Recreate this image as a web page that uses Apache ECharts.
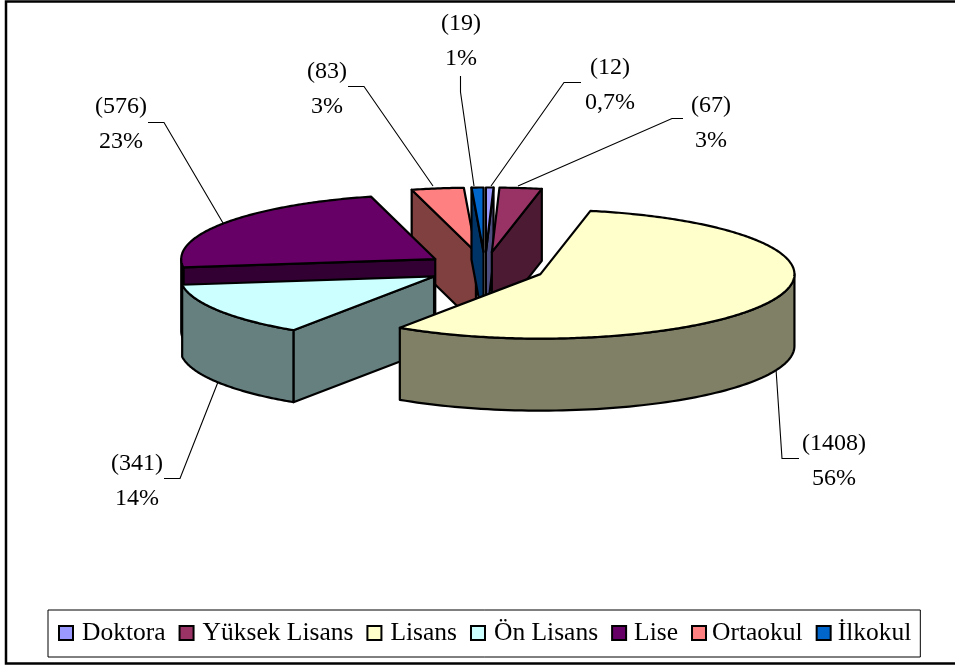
<!DOCTYPE html>
<html>
<head>
<meta charset="utf-8">
<style>html,body{margin:0;padding:0;background:#fff}#c{width:955px;height:665px}</style>
<script src="https://cdn.jsdelivr.net/npm/echarts@6/dist/echarts.min.js"></script>
</head>
<body>
<div id="c"></div>
<script>
const categories = ['Doktora', 'Yüksek Lisans', 'Lisans', 'Ön Lisans', 'Lise', 'Ortaokul', 'İlkokul'];
const counts = [12, 67, 1408, 341, 576, 83, 19];
const percentLabels = ['0,7%', '3%', '56%', '14%', '23%', '3%', '1%'];
const topColors = ['#9999FF', '#993366', '#FFFFCC', '#CCFFFF', '#660066', '#FF8080', '#0066CC'];
const wallColors = ['#4D4D80', '#4D1A33', '#808066', '#668080', '#330033', '#804040', '#003366'];
const drawOrder = [5, 6, 0, 1, 4, 3, 2];
const labelCenters = [[610, 85], [711, 123], [834, 461], [137, 481], [121, 124], [327, 89], [461, 41]];
const leaders = [
  [[581, 82.5], [564, 82.5], [491, 186]],
  [[683, 118.5], [672, 118.5], [518, 186]],
  [[799, 458.5], [782, 458.5], [776, 369]],
  [[164, 478.5], [180, 478.5], [218, 382]],
  [[148, 122.5], [164, 122.5], [223, 223]],
  [[348, 86.5], [364, 86.5], [433, 186]],
  [[460.5, 76], [460.5, 92], [474, 186]]
];
const legendTextPads = [4, 4, 4, 4, 3, 1, 2];

const C = {x: 485, y: 268, rx: 254, ry: 64.5, depth: 72, exX: 60, exY: 16};
const total = counts.reduce((a, b) => a + b, 0);
const starts = [];
counts.reduce((acc, v, i) => { starts[i] = acc; return acc + v / total * 360; }, 0);
const rad = d => d * Math.PI / 180;

function sliceChildren(i) {
  const a0 = starts[i], a1 = a0 + counts[i] / total * 360, mid = (a0 + a1) / 2;
  const ax = C.x + C.exX * Math.sin(rad(mid));
  const ay = C.y - C.exY * Math.cos(rad(mid));
  const pt = (a, dz) => [ax + C.rx * Math.sin(rad(a)), ay - C.ry * Math.cos(rad(a)) + (dz || 0)];
  const stroke = {stroke: '#000', lineWidth: 2.2, lineJoin: 'round'};
  const poly = (points, fill) => ({type: 'polygon', shape: {points}, style: Object.assign({fill}, stroke)});
  const kids = [];
  // leader line
  kids.push({type: 'polyline', shape: {points: leaders[i]}, style: {stroke: '#000', lineWidth: 1.1, fill: 'none'}});
  // radial walls (only those facing the viewer)
  if (-Math.cos(rad(a0 - 90)) > 0.001) {
    kids.push(poly([[ax, ay], pt(a0), pt(a0, C.depth), [ax, ay + C.depth]], wallColors[i]));
  }
  if (-Math.cos(rad(a1 + 90)) > 0.001) {
    kids.push(poly([[ax, ay], pt(a1), pt(a1, C.depth), [ax, ay + C.depth]], wallColors[i]));
  }
  // outer rim, front part only
  const r0 = Math.max(a0, 90), r1 = Math.min(a1, 270);
  if (r1 > r0) {
    const upper = [], lower = [];
    for (let a = r0; a <= r1 + 1e-6; a += (r1 - r0) / 80) { upper.push(pt(a)); lower.unshift(pt(a, C.depth)); }
    kids.push(poly(upper.concat(lower), wallColors[i]));
  }
  // top face
  const top = [[ax, ay]];
  const n = Math.max(4, Math.ceil((a1 - a0) * 1.5));
  for (let k = 0; k <= n; k++) top.push(pt(a0 + (a1 - a0) * k / n));
  kids.push(poly(top, topColors[i]));
  // data label
  kids.push({type: 'text', style: {
    x: labelCenters[i][0], y: labelCenters[i][1],
    text: '(' + counts[i] + ')\n' + percentLabels[i],
    font: '24px "Liberation Serif"', lineHeight: 35, fill: '#000', align: 'center', verticalAlign: 'middle'
  }});
  return kids;
}

const series = drawOrder.map((i, order) => ({
  type: 'custom',
  name: categories[i],
  coordinateSystem: 'none',
  z: 2 + order,
  silent: true,
  animation: false,
  itemStyle: {color: topColors[i]},
  data: [[counts[i]]],
  renderItem: () => ({type: 'group', children: sliceChildren(i)})
}));

const chart = echarts.init(document.getElementById('c'), null, {renderer: 'canvas'});
chart.setOption({
  backgroundColor: '#fff',
  animation: false,
  graphic: [{type: 'polyline', z: 0, shape: {points: [[960, 1.5], [6, 1.5], [6, 663.5], [960, 663.5]]}, style: {fill: 'none', stroke: '#000', lineWidth: 2.5}}],
  legend: {
    left: 48, top: 610,
    data: categories.map((name, i) => ({
      name,
      textStyle: {padding: [0, 0, 0, legendTextPads[i]]}
    })),
    icon: 'rect',
    itemWidth: 14, itemHeight: 14, itemGap: 13,
    padding: [10, 9, 11, 10],
    borderColor: '#000', borderWidth: 1, backgroundColor: '#fff',
    selectedMode: false,
    itemStyle: {borderColor: '#000', borderWidth: 2},
    textStyle: {fontFamily: 'Liberation Serif', fontSize: 25.5, color: '#000', padding: [0, 0, 0, 4]}
  },
  series
});
</script>
</body>
</html>
